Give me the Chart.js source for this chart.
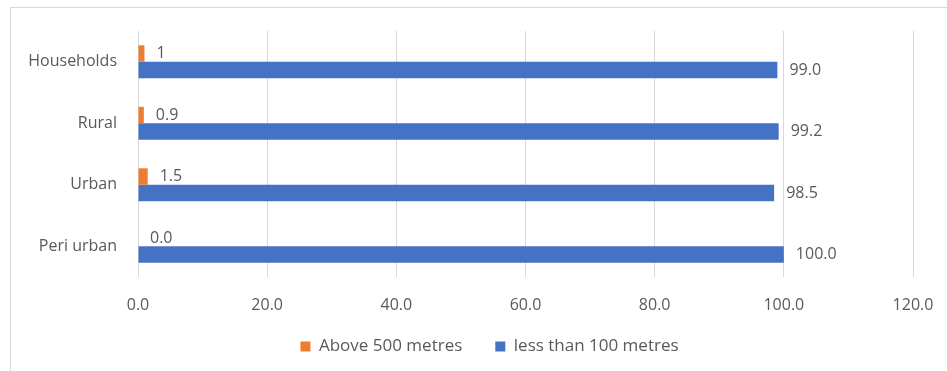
<!DOCTYPE html>
<html>
<head>
<meta charset="utf-8">
<script src="https://cdn.jsdelivr.net/npm/chart.js@4/dist/chart.umd.min.js"></script>
<style>
  html, body { margin: 0; padding: 0; background: #ffffff; overflow: hidden; }
  #wrap { position: relative; width: 947px; height: 371px; }
</style>
</head>
<body>
<div id="wrap"><canvas id="c" width="947" height="371"></canvas></div>
<script>
// Distance to water source, by area type (percent)
const categories = ['Households', 'Rural', 'Urban', 'Peri urban'];
const aboveLabels = ['1', '0.9', '1.5', '0.0'];
const above500 = aboveLabels.map(Number);
const under100 = [99.0, 99.2, 98.5, 100.0];
const xTicks = [0, 20, 40, 60, 80, 100, 120];

const FONT = { family: '"Open Sans", sans-serif', size: 16 };
const LEGEND_FONT = { family: '"Open Sans", sans-serif', size: 17 };
const TEXT = '#595959';
const GRID = '#d9d9d9';

// Light frame around the whole chart
const frame = {
  id: 'frame',
  beforeDraw(chart) {
    const ctx = chart.ctx;
    ctx.save();
    ctx.strokeStyle = GRID;
    ctx.lineWidth = 1;
    ctx.strokeRect(10.5, 7.5, 1000, 1000);
    ctx.restore();
  }
};

// Value labels to the right of each bar end
const valueLabels = {
  id: 'valueLabels',
  afterDatasetsDraw(chart) {
    const ctx = chart.ctx;
    ctx.save();
    ctx.font = `${FONT.size}px ${FONT.family}`;
    ctx.fillStyle = TEXT;
    ctx.textAlign = 'left';
    ctx.textBaseline = 'middle';
    chart.data.datasets.forEach((ds, di) => {
      const meta = chart.getDatasetMeta(di);
      meta.data.forEach((bar, i) => {
        const text = ds.labelText ? ds.labelText[i] : ds.data[i].toFixed(1);
        ctx.fillText(text, bar.x + 12, bar.y);
      });
    });
    ctx.restore();
  }
};

// Place the legend centred under the frame, a little higher than its box,
// and give the x tick labels room below their box
const layoutTweaks = {
  id: 'layoutTweaks',
  afterLayout(chart) {
    const lg = chart.legend;
    lg.left += 33;
    lg.right += 33;
    lg.top -= 6;
    lg.bottom -= 6;
    chart.scales.x.bottom += 12;
  }
};

new Chart(document.getElementById('c'), {
  type: 'bar',
  data: {
    labels: categories,
    datasets: [
      {
        label: 'Above 500 metres',
        data: above500,
        labelText: aboveLabels,
        backgroundColor: '#ED7D31',
        categoryPercentage: 0.535,
        barPercentage: 1.0
      },
      {
        label: 'less than 100 metres',
        data: under100,
        backgroundColor: '#4472C4',
        categoryPercentage: 0.535,
        barPercentage: 1.0
      }
    ]
  },
  options: {
    indexAxis: 'y',
    responsive: false,
    animation: false,
    layout: { padding: { top: 31, right: 34, bottom: 0, left: 0 } },
    scales: {
      x: {
        min: 0,
        max: 120,
        afterBuildTicks(scale) { scale.ticks = xTicks.map(v => ({ value: v })); },
        afterFit(scale) {
          scale.height = 34;
          scale.paddingLeft = 0;
          scale.paddingRight = 0;
        },
        grid: { color: GRID, lineWidth: 1, drawTicks: false, tickLength: 0 },
        border: { display: false },
        ticks: {
          color: TEXT,
          font: FONT,
          padding: 19,
          maxRotation: 0,
          callback: v => Number(v).toFixed(1)
        }
      },
      y: {
        afterFit(scale) {
          scale.width = 138;
          scale.paddingTop = 0;
          scale.paddingBottom = 0;
        },
        grid: { display: false, drawTicks: false, tickLength: 0 },
        border: { display: false },
        ticks: { color: TEXT, font: FONT, padding: 21 }
      }
    },
    plugins: {
      legend: {
        position: 'bottom',
        labels: {
          color: TEXT,
          font: LEGEND_FONT,
          boxWidth: 10,
          boxHeight: 10,
          padding: 33
        }
      },
      tooltip: { enabled: false }
    }
  },
  plugins: [frame, valueLabels, layoutTweaks]
});
</script>
</body>
</html>
